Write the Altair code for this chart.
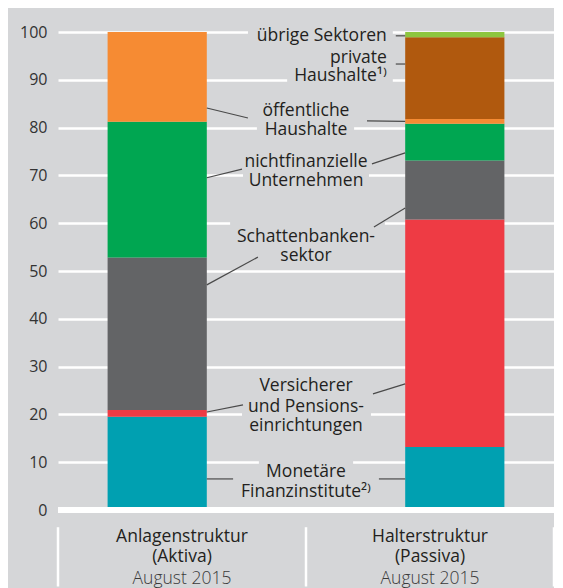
import altair as alt
import pandas as pd

BG = "#d5d6d8"
FONT = "Open Sans"
FS = 17.5

sectors = ["Monetäre Finanzinstitute", "Versicherer und Pensionseinrichtungen",
           "Schattenbankensektor", "nichtfinanzielle Unternehmen",
           "öffentliche Haushalte", "private Haushalte", "übrige Sektoren"]
sector_colors = ["#00a0b1", "#ee3b44", "#636466", "#00a651", "#f68b33", "#b0590e", "#8dc63f"]
aktiva = [19.5, 1.4, 31.9, 28.4, 18.8, 0.0, 0.0]
passiva = [13.2, 47.6, 12.3, 7.7, 1.0, 17.1, 1.1]
bars = ["Anlagenstruktur (Aktiva)", "Halterstruktur (Passiva)"]
bar_x = [1.0, 7.0]
bar_x2 = [3.0, 9.0]

# category labels under the bars (text baselines)
cat_x = [2.5, 2.5, 2.5, 7.5, 7.5, 7.5]
cat_y = [-6.6, -10.8, -15.5, -6.6, -10.8, -15.5]
cat_text = ["Anlagenstruktur", "(Aktiva)", "August 2015",
            "Halterstruktur", "(Passiva)", "August 2015"]
cat_light = [False, False, True, False, False, True]
sep_x = [0.0, 5.0, 10.0]

# sector labels (text baselines)
label_text = ["übrige Sektoren", "private", "Haushalte¹⁾", "öffentliche", "Haushalte",
              "nichtfinanzielle", "Unternehmen", "Schattenbanken-", "sektor",
              "Versicherer", "und Pensions-", "einrichtungen", "Monetäre", "Finanzinstitute²⁾"]
label_x = [6.63, 6.63, 6.63, 5.0, 5.0, 5.0, 5.0, 5.0, 5.0, 5.0, 5.0, 5.0, 5.0, 5.0]
label_y = [98.2, 93.5, 89.8, 82.5, 78.5, 71.7, 67.7, 56.0, 52.0, 25.0, 20.6, 16.6, 6.8, 2.7]
label_right = [True, True, True] + [False] * 11

# gaps in the grid lines behind the labels
gap_y = [100, 90, 80, 70, 60, 20, 10]
gap_x = [3.83, 4.62, 4.01, 3.73, 3.47, 3.71, 4.05]
gap_x2 = [6.75, 6.75, 5.97, 6.27, 6.59, 6.31, 5.95]

# leader lines
lead_x = [3.0, 6.23, 3.0, 6.33, 3.0, 6.37, 3.0, 6.35, 3.0, 6.47, 6.81, 6.81]
lead_y = [84.1, 81.4, 69.5, 72.4, 47.1, 59.2, 20.5, 24.3, 6.5, 6.5, 99.2, 93.3]
lead_x2 = [3.83, 7.0, 3.71, 7.0, 4.03, 7.0, 3.73, 7.0, 3.53, 7.0, 7.0, 7.0]
lead_y2 = [82.0, 81.3, 71.3, 74.7, 52.9, 63.2, 22.0, 26.4, 6.5, 6.5, 99.2, 93.3]

rows = []
for b, x0, x1, vals in zip(bars, bar_x, bar_x2, [aktiva, passiva]):
    cum = 0.0
    for s, v in zip(sectors, vals):
        if v > 0:
            rows.append({"bar": b, "sector": s, "x": x0, "x2": x1, "y": cum, "y2": cum + v})
        cum += v
bar_df = pd.DataFrame(rows)

xs = alt.Scale(domain=[0, 10], nice=False, zero=False)
ys = alt.Scale(domain=[0, 100], nice=False)

bar_layer = alt.Chart(bar_df).mark_bar(stroke=None).encode(
    x=alt.X("x:Q", scale=xs, axis=None),
    x2="x2:Q",
    y=alt.Y("y:Q", scale=ys, title=None,
            axis=alt.Axis(values=list(range(0, 101, 10)), grid=True, gridColor="white",
                          gridWidth=2.5, domain=False, ticks=False, labelFont=FONT,
                          labelFontSize=16, labelColor="#333333", labelPadding=11)),
    y2="y2:Q",
    color=alt.Color("sector:N", scale=alt.Scale(domain=sectors, range=sector_colors), legend=None),
)

gap_df = pd.DataFrame({"x": gap_x, "x2": gap_x2,
                       "y": [g - 0.7 for g in gap_y], "y2": [g + 0.7 for g in gap_y]})
gaps = alt.Chart(gap_df).mark_rect(color=BG).encode(
    x=alt.X("x:Q", scale=xs), x2="x2:Q", y=alt.Y("y:Q", scale=ys), y2="y2:Q")

lab_df = pd.DataFrame({"t": label_text, "x": label_x, "y": label_y, "r": label_right})

def text_layer(df, align):
    return alt.Chart(df).mark_text(
        align=align, baseline="alphabetic", font=FONT, fontSize=FS, fontWeight=500,
        color="#231f20").encode(
        x=alt.X("x:Q", scale=xs), y=alt.Y("y:Q", scale=ys), text="t:N")

lead_df = pd.DataFrame({"x": lead_x, "y": lead_y, "x2": lead_x2, "y2": lead_y2})
leads = alt.Chart(lead_df).mark_rule(color="#4a4a4a", strokeWidth=1.2).encode(
    x=alt.X("x:Q", scale=xs), y=alt.Y("y:Q", scale=ys), x2="x2:Q", y2="y2:Q")

base_df = pd.DataFrame({"x": [0.0], "x2": [10.0], "y": [0.0]})
baseline = alt.Chart(base_df).mark_rule(color="white", strokeWidth=6).encode(
    x=alt.X("x:Q", scale=xs), x2="x2:Q", y=alt.Y("y:Q", scale=ys))

sep_df = pd.DataFrame({"x": sep_x, "y": [-3.6] * 3, "y2": [-16.0] * 3})
seps = alt.Chart(sep_df).mark_rule(color="white", strokeWidth=2.5).encode(
    x=alt.X("x:Q", scale=xs), y=alt.Y("y:Q", scale=ys), y2="y2:Q")

cat_df = pd.DataFrame({"t": cat_text, "x": cat_x, "y": cat_y, "l": cat_light})
cat_dark = alt.Chart(cat_df[~cat_df.l]).mark_text(
    align="center", baseline="alphabetic", font=FONT, fontSize=FS, fontWeight=500,
    color="#231f20").encode(
    x=alt.X("x:Q", scale=xs), y=alt.Y("y:Q", scale=ys), text="t:N")
cat_lt = alt.Chart(cat_df[cat_df.l]).mark_text(
    align="center", baseline="alphabetic", font=FONT, fontSize=FS, fontWeight=300,
    color="#3a3a3a").encode(
    x=alt.X("x:Q", scale=xs), y=alt.Y("y:Q", scale=ys), text="t:N")

chart = alt.layer(
    bar_layer, gaps, leads,
    text_layer(lab_df[~lab_df.r], "center"), text_layer(lab_df[lab_df.r], "right"),
    baseline, seps, cat_dark, cat_lt,
).properties(
    width=496, height=478,
    autosize=alt.AutoSizeParams(type="none"),
    padding={"left": 50, "top": 24, "right": 0, "bottom": 78},
    background=BG,
).configure_view(stroke=None)

chart.save("out.html", embed_options={"renderer": "svg", "actions": False})
